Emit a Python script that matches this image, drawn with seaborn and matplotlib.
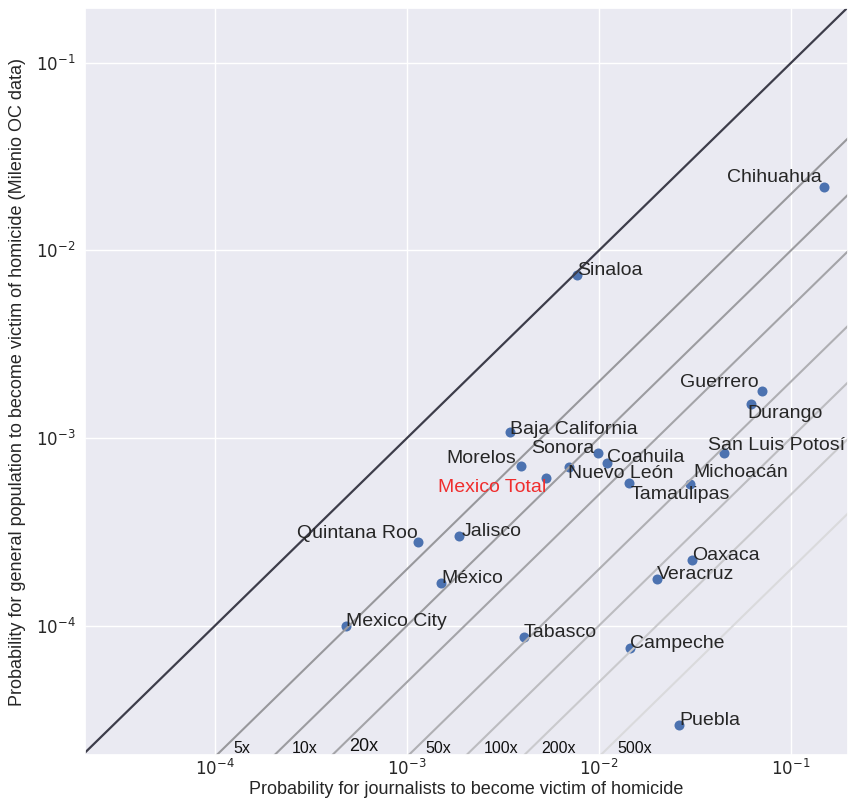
import numpy as np
import pandas as pd
import matplotlib
matplotlib.use("Agg")
import matplotlib.pyplot as plt
import seaborn as sns

# Homicide probabilities per state: journalists vs. general population
states = [
    "Chihuahua", "Sinaloa", "Guerrero", "Durango", "Baja California",
    "Sonora", "Coahuila", "Nuevo León", "Morelos", "Mexico Total",
    "San Luis Potosí", "Michoacán", "Tamaulipas", "Quintana Roo", "Jalisco",
    "Oaxaca", "Veracruz", "México", "Mexico City", "Tabasco",
    "Campeche", "Puebla",
]
p_journalists = [
    0.149, 0.00769, 0.0708, 0.0615, 0.00344,
    0.00982, 0.01099, 0.00700, 0.00392, 0.00528,
    0.0446, 0.02985, 0.01435, 0.001137, 0.001854,
    0.0306, 0.02004, 0.001507, 0.000482, 0.00405,
    0.01442, 0.02618,
]
p_population = [
    0.0218, 0.0074, 0.00179, 0.00152, 0.001076,
    0.000835, 0.000733, 0.000703, 0.00071, 0.000614,
    0.000828, 0.000566, 0.000578, 0.00028, 0.00030,
    0.000223, 0.000177, 0.000169, 0.000100, 8.71e-5,
    7.62e-5, 2.96e-5,
]

# Reference ratios (journalist risk / population risk)
ratios = [5, 10, 20, 50, 100, 200, 500]
ratio_labels = ["5x", "10x", "20x", "50x", "100x", "200x", "500x"]

df = pd.DataFrame({"state": states, "journalists": p_journalists,
                   "population": p_population})

sns.set_theme(style="darkgrid")
plt.rcParams["font.family"] = ["DejaVu Sans"]
text_font = ["Liberation Sans", "DejaVu Sans"]

fig = plt.figure(figsize=(8.48, 8.02), dpi=100)
ax = fig.add_axes([85 / 848, 1 - 755 / 802, 763 / 848, 747 / 802])
ax.set_xscale("log")
ax.set_yscale("log")

sns.scatterplot(data=df, x="journalists", y="population", ax=ax,
                s=52, color="#4c72b0", linewidth=0, zorder=1)

xlim = (2.1e-5, 0.198)
ylim = (2.04e-5, 0.196)
xs = np.array([1e-7, 10.0])

# identity line
ax.plot(xs, xs, color="#3d3d4a", lw=1.6, zorder=2)

line_colors = ["#98989c", "#9c9ca0", "#a4a4a8", "#afafb3",
               "#bcbcc0", "#cacacd", "#dadadc"]
for k, lab, c in zip(ratios, ratio_labels, line_colors):
    ax.plot(xs, xs / k, color=c, lw=1.5, zorder=2)
    big = lab == "20x"
    ax.text(k * 2.5e-5, 2.15e-5 if big else 2.1e-5, lab,
            fontsize=13 if big else 11.5, color="#111111",
            family=text_font, ha="left", va="baseline", zorder=4)

# label placement: (alignment, dx, dy) in pixels
placement = {
    "Chihuahua": ("right", -2.5, 4.6),
    "Guerrero": ("right", -3.5, 4),
    "Durango": ("left", -3.5, -14.6),
    "Baja California": ("left", 0, -2),
    "Sonora": ("right", -3, 0),
    "Coahuila": ("left", 0, 1.6),
    "Nuevo León": ("left", -1.5, -11.6),
    "Morelos": ("right", -5, 2.7),
    "Mexico Total": ("right", 0, -14),
    "San Luis Potosí": ("left", -15.5, 3.3),
    "Michoacán": ("left", 3, 7),
    "Tamaulipas": ("left", 1.5, -16.6),
    "Quintana Roo": ("right", -0.5, 4),
    "Jalisco": ("left", 3, 0),
}

for name, xj, yp in zip(states, p_journalists, p_population):
    ha, dx, dy = placement.get(name, ("left", 0, 0))
    color = "#f02d2d" if name == "Mexico Total" else "#262626"
    ax.annotate(name, (xj, yp), xytext=(dx, dy), textcoords="offset pixels",
                ha=ha, va="baseline", fontsize=14, color=color,
                family=text_font, zorder=3, annotation_clip=False)

ax.set_xlim(*xlim)
ax.set_ylim(*ylim)
ax.set_xticks([1e-4, 1e-3, 1e-2, 1e-1])
ax.set_yticks([1e-4, 1e-3, 1e-2, 1e-1])
ax.tick_params(axis="both", which="major", labelsize=12, colors="#262626",
               length=0)
ax.tick_params(axis="x", pad=3)
ax.tick_params(axis="y", pad=7)
ax.minorticks_off()

ax.set_xlabel("Probability for journalists to become victim of homicide",
              fontsize=13, family=text_font, color="#262626", labelpad=1)
ax.set_ylabel("Probability for general population to become victim of "
              "homicide (Milenio OC data)",
              fontsize=13, family=text_font, color="#262626", labelpad=7)

fig.savefig("out.png", dpi=100)
